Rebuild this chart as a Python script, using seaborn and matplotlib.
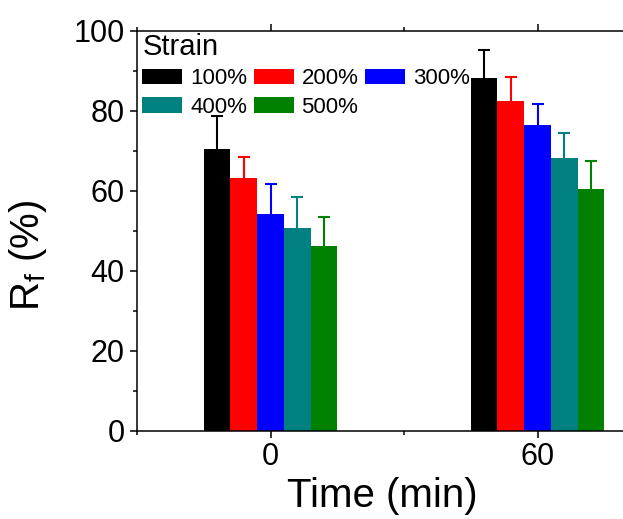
import numpy as np
import pandas as pd
import matplotlib
matplotlib.use('Agg')
import matplotlib.pyplot as plt
from matplotlib.ticker import MultipleLocator
import seaborn as sns

# data
times = [0, 60]
strains = ['100%', '200%', '300%', '400%', '500%']
rf_0min = [70.6, 63.3, 54.3, 50.7, 46.3]
rf_60min = [88.2, 82.4, 76.4, 68.3, 60.6]
err_0min = [8.1, 5.2, 7.4, 7.9, 7.2]
err_60min = [7.1, 6.2, 5.4, 6.3, 6.8]
colors = ['#000000', '#ff0000', '#0000ff', '#008080', '#008000']

sns.set_style('ticks')
plt.rcParams['font.family'] = ['Liberation Sans', 'DejaVu Sans']
plt.rcParams['mathtext.default'] = 'regular'
plt.rcParams['text.color'] = 'black'
plt.rcParams['axes.labelcolor'] = 'black'
plt.rcParams['xtick.color'] = 'black'
plt.rcParams['ytick.color'] = 'black'

df = pd.DataFrame({
    'Time': times * len(strains),
    'Strain': [s for s in strains for _ in times],
    'Rf': [v for pair in zip(rf_0min, rf_60min) for v in pair],
})
errs = {s: [e0, e60] for s, e0, e60 in zip(strains, err_0min, err_60min)}

fig = plt.figure(figsize=(6.23, 5.19), dpi=100)
ax = fig.add_axes([137 / 623, 1 - 431 / 519, 534 / 623, 400 / 519])

sns.barplot(data=df, x='Time', y='Rf', hue='Strain', hue_order=strains,
            palette=colors, native_scale=True, width=0.5, dodge=True,
            linewidth=0, saturation=1, ax=ax)

# upper-only error bars (drop the lower cap sitting on the bar top)
for strain, color, cont in zip(strains, colors, ax.containers):
    for bar in cont:
        xc = bar.get_x() + bar.get_width() / 2
        idx = int(np.argmin([abs(xc - t) for t in times]))
        eb = ax.errorbar(xc, bar.get_height(), yerr=[[0], [errs[strain][idx]]],
                         fmt='none', ecolor=color, elinewidth=1.5, capsize=4,
                         capthick=1.5)
        eb[1][0].set_visible(False)

ax.set_xlim(-30, 90)
ax.set_ylim(0, 100)
ax.xaxis.set_major_locator(MultipleLocator(60))
ax.xaxis.set_minor_locator(MultipleLocator(30))
ax.yaxis.set_major_locator(MultipleLocator(20))
ax.yaxis.set_minor_locator(MultipleLocator(10))
ax.tick_params(which='both', direction='out', width=1.1, top=True,
               labelsize=22, colors='black')
ax.tick_params(which='major', length=5)
ax.tick_params(which='minor', length=3)
ax.tick_params(axis='x', pad=3)
ax.tick_params(axis='y', pad=4)
for sp in ax.spines.values():
    sp.set_linewidth(1.1)
    sp.set_color('black')

ax.set_xlabel('Time (min)', fontsize=29, color='black')
ax.set_ylabel('R$_{f}$ (%)', fontsize=29, color='black')
ax.xaxis.set_label_coords(0.46, -0.115)
ax.yaxis.set_label_coords(-0.165, 0.44)

# row-wise legend order: 100 200 300 / 400 500
handles, labels = ax.get_legend_handles_labels()
order = [0, 3, 1, 4, 2]
leg = ax.legend([handles[i] for i in order], [labels[i] for i in order],
                title='Strain', ncol=3, loc='upper left',
                bbox_to_anchor=(0.01, 0.995), frameon=False,
                fontsize=16, title_fontsize=21, alignment='left',
                handlelength=1.8, handleheight=0.72, handletextpad=0.35,
                columnspacing=0.3, labelspacing=0.33, borderpad=0,
                borderaxespad=0, labelcolor='black')
leg.get_title().set_color('black')

fig.savefig('out.png', dpi=100)
